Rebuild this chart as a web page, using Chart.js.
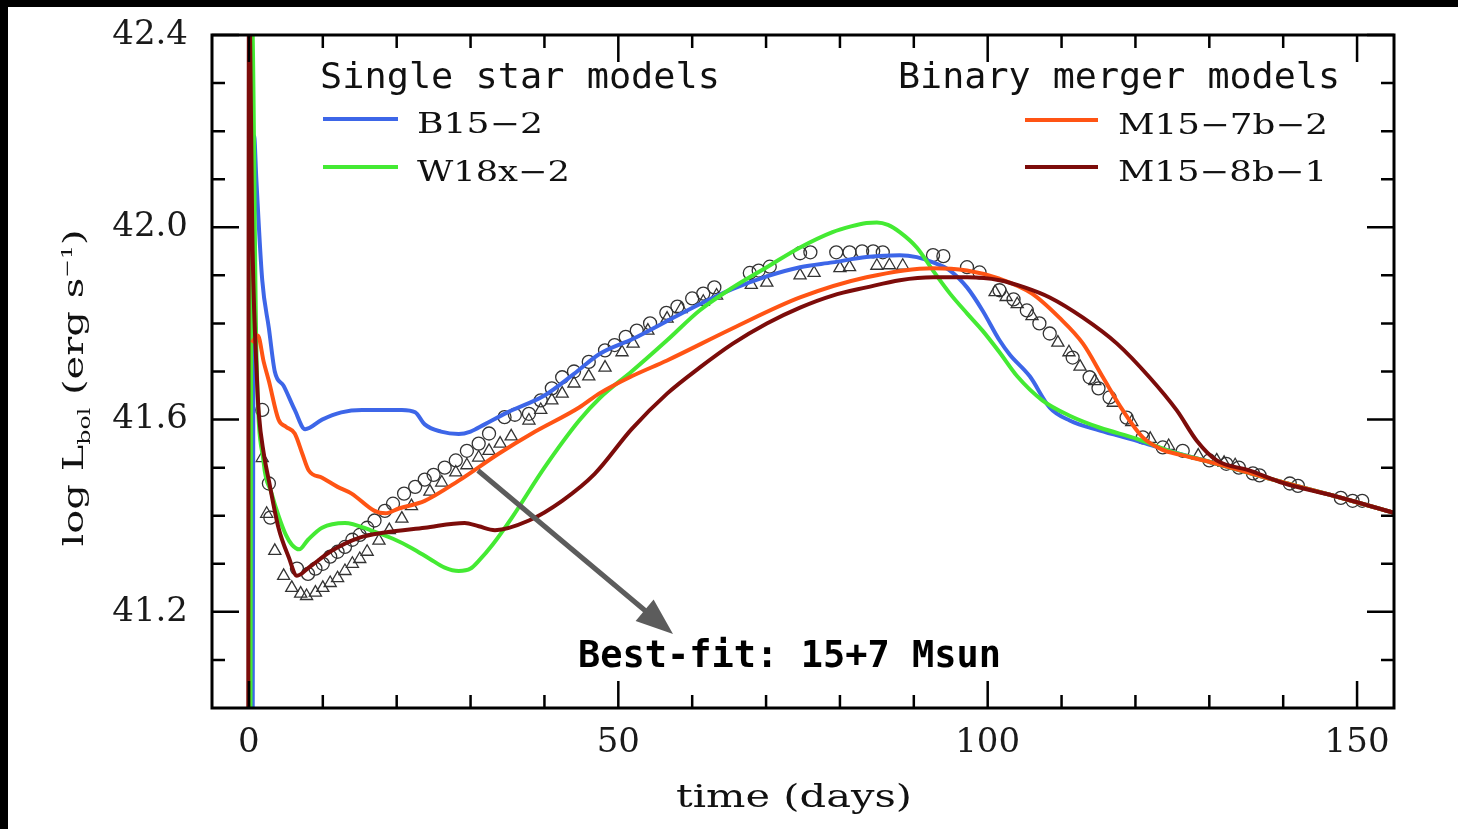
<!DOCTYPE html>
<html>
<head>
<meta charset="utf-8">
<title>Bolometric light curves</title>
<script src="https://cdn.jsdelivr.net/npm/chart.js"></script>
<style>
  html, body { margin: 0; padding: 0; background: #fff; overflow: hidden; width: 100%; height: 100%; }
  .edge-top { position: fixed; left: 0; top: 0; width: 100%; height: 7px; background: #000; }
  .edge-left { position: fixed; left: 0; top: 0; width: 8px; height: 100%; background: #000; }
  .figure { position: fixed; left: 8px; top: 7px; width: 1450px; height: 822px; background: #fff; }
</style>
</head>
<body>
<div class="edge-top"></div>
<div class="edge-left"></div>
<div class="figure"><canvas id="lcChart"></canvas></div>
<script>
// --- model light curves: time (days) / log L_bol ---
const b15Time = [0.5, 0.7, 1.0, 1.8, 2.7, 3.5, 4.7, 6.2, 7.6, 9.9,
  12.5, 15.3, 18.0, 20.7, 22.5, 23.8, 26.0, 28.4, 30.0, 31.9,
  35.0, 40.0, 44.0, 47.5, 52.0, 56.6, 61.0, 65.5, 70.1, 74.6,
  79.0, 83.6, 88.1, 90.4, 92.6, 94.9, 97.2, 99.3, 101.6, 103.0,
  105.7, 108.4, 111.1, 115.2, 120.2, 124.6, 130.5, 137.7, 146.7, 155.0];
const b15Lum = [40.90, 42.19, 42.10, 41.89, 41.79, 41.70, 41.67, 41.62, 41.58, 41.60,
  41.615, 41.62, 41.62, 41.62, 41.615, 41.59, 41.575, 41.57, 41.575, 41.59,
  41.615, 41.65, 41.695, 41.737, 41.768, 41.805, 41.84, 41.872, 41.898, 41.917,
  41.927, 41.938, 41.942, 41.938, 41.927, 41.91, 41.875, 41.827, 41.765, 41.735,
  41.69, 41.625, 41.598, 41.577, 41.556, 41.535, 41.51, 41.479, 41.442, 41.406];

const w18Time = [0.2, 0.4, 1.0, 2.0, 3.0, 4.0, 5.0, 5.8, 6.8, 8.0,
  9.9, 13.0, 16.6, 19.5, 22.0, 24.5, 26.5, 28.4, 30.0, 31.1,
  33.0, 35.6, 40.0, 44.7, 47.5, 51.8, 56.6, 61.0, 65.5, 70.1,
  74.6, 79.0, 81.5, 83.6, 85.0, 86.5, 88.1, 90.4, 92.6, 94.9, 97.2,
  99.3, 101.6, 104.0, 107.4, 111.1, 115.2, 120.2, 124.6, 130.5, 137.7,
  146.7, 155.0];
const w18Lum = [40.90, 42.45, 41.75, 41.51, 41.45, 41.40, 41.36, 41.34, 41.33, 41.35,
  41.375, 41.385, 41.369, 41.352, 41.333, 41.31, 41.292, 41.285, 41.29, 41.306,
  41.34, 41.396, 41.50, 41.598, 41.645, 41.70, 41.765, 41.827, 41.875, 41.917,
  41.958, 41.99, 42.002, 42.009, 42.01, 42.005, 41.99, 41.958, 41.91, 41.862, 41.821,
  41.785, 41.74, 41.69, 41.64, 41.608, 41.583, 41.56, 41.535, 41.51, 41.479,
  41.442, 41.406];

const m157Time = [0.4, 1.2, 2.0, 2.7, 4.0, 5.0, 6.2, 7.2, 8.1,
  9.9, 12.0, 13.9, 17.0, 18.5, 20.3, 23.8, 28.4, 33.8, 38.3,
  44.7, 47.5, 51.8, 56.6, 65.5, 74.6, 83.6, 92.6, 97.2, 101.6,
  106.0, 109.7, 112.9, 115.6, 118.3, 121.0, 123.7, 126.0, 130.5, 137.7,
  146.7, 155.0];
const m157Lum = [41.76, 41.775, 41.72, 41.68, 41.60, 41.585, 41.571, 41.53, 41.494,
  41.479, 41.46, 41.446, 41.41, 41.405, 41.415, 41.431, 41.473, 41.529, 41.571,
  41.625, 41.655, 41.69, 41.723, 41.79, 41.854, 41.896, 41.915, 41.91, 41.893,
  41.862, 41.812, 41.758, 41.688, 41.619, 41.563, 41.537, 41.527, 41.51, 41.479,
  41.442, 41.406];

const m158Time = [-0.1, 0.0, 0.5, 1.1, 1.35, 2.0, 2.7, 4.0, 5.4, 6.5,
  8.1, 11.2, 14.9, 18.4, 23.8, 29.2, 31.1, 33.3, 37.9, 42.4,
  46.8, 51.8, 56.6, 61.0, 65.5, 70.1, 74.6, 79.0, 83.6, 88.1,
  92.6, 97.2, 101.6, 105.0, 108.4, 112.9, 117.5, 121.9, 125.6, 128.3,
  131.0, 135.5, 140.0, 146.7, 155.0];
const m158Lum = [40.80, 42.50, 41.95, 41.68, 41.61, 41.53, 41.473, 41.375, 41.313, 41.275,
  41.292, 41.327, 41.354, 41.365, 41.375, 41.385, 41.378, 41.37, 41.39, 41.431,
  41.487, 41.58, 41.654, 41.708, 41.758, 41.80, 41.833, 41.858, 41.875, 41.89,
  41.896, 41.896, 41.89, 41.875, 41.854, 41.812, 41.758, 41.688, 41.619, 41.556,
  41.515, 41.494, 41.468, 41.442, 41.406];

// --- observed points (two sets: circles and triangles) ---
const obsCircleTime = [1.8, 2.7, 2.9, 6.5, 8.0, 9.0, 10.0, 11.0, 12.0, 13.0,
  14.0, 15.0, 16.0, 17.0, 18.4, 19.5, 21.0, 22.5, 23.8, 25.0,
  26.5, 28.0, 29.5, 31.1, 32.5, 34.6, 36.0, 37.9, 39.5, 41.0,
  42.4, 44.0, 46.0, 48.2, 49.5, 51.0, 52.5, 54.3, 56.5, 58.0,
  60.0, 61.5, 63.0, 67.8, 69.0, 70.5, 74.6, 76.0, 79.5, 81.3,
  83.0, 84.5, 85.8, 92.6, 94.0, 97.2, 98.9, 101.6, 103.5, 105.3,
  107.0, 108.4, 111.5, 113.8, 115.0, 116.5, 118.8, 121.0, 123.7, 126.4,
  130.0, 132.3, 134.0, 135.9, 136.8, 140.9, 142.0, 147.8, 149.4, 150.7];
const obsCircleLum = [41.62, 41.467, 41.396, 41.29, 41.279, 41.29, 41.30, 41.315, 41.325, 41.335,
  41.35, 41.36, 41.375, 41.39, 41.41, 41.425, 41.446, 41.46, 41.475, 41.485,
  41.50, 41.515, 41.535, 41.55, 41.571, 41.605, 41.61, 41.612, 41.64, 41.665,
  41.688, 41.70, 41.72, 41.744, 41.755, 41.772, 41.785, 41.80, 41.822, 41.835,
  41.852, 41.862, 41.875, 41.905, 41.91, 41.918, 41.946, 41.948, 41.948, 41.948,
  41.95, 41.95, 41.948, 41.942, 41.94, 41.917, 41.906, 41.869, 41.85, 41.827,
  41.80, 41.779, 41.729, 41.688, 41.665, 41.646, 41.604, 41.563, 41.542, 41.535,
  41.515, 41.508, 41.50, 41.488, 41.484, 41.467, 41.462, 41.437, 41.431, 41.431];

const obsTriTime = [1.8, 2.4, 3.5, 4.7, 5.8, 7.0, 7.8, 9.0, 10.0, 11.0,
  12.0, 13.0, 14.0, 15.0, 16.0, 17.6, 19.0, 20.7, 22.0, 24.5,
  26.1, 28.0, 29.5, 31.1, 32.5, 34.0, 35.5, 37.9, 39.5, 41.0,
  42.4, 44.0, 46.0, 48.2, 50.5, 52.0, 54.0, 56.6, 58.5, 61.5,
  63.3, 68.0, 70.1, 74.6, 76.5, 80.0, 81.3, 85.0, 86.7, 88.5,
  101.0, 102.5, 104.0, 106.0, 109.5, 111.0, 112.5, 114.5, 117.0, 119.5,
  122.0, 124.5, 128.5, 131.0, 132.0, 133.5];
const obsTriLum = [41.52, 41.404, 41.327, 41.275, 41.25, 41.238, 41.233, 41.24, 41.25, 41.26,
  41.27, 41.285, 41.30, 41.31, 41.325, 41.348, 41.37, 41.394, 41.42, 41.45,
  41.469, 41.49, 41.505, 41.521, 41.535, 41.55, 41.565, 41.598, 41.62, 41.64,
  41.654, 41.675, 41.69, 41.708, 41.74, 41.758, 41.785, 41.81, 41.83, 41.845,
  41.858, 41.88, 41.885, 41.90, 41.905, 41.915, 41.917, 41.92, 41.921, 41.92,
  41.865, 41.855, 41.84, 41.815, 41.76, 41.74, 41.71, 41.68, 41.635, 41.595,
  41.56, 41.545, 41.525, 41.515, 41.51, 41.505];

// --- axes ---
const xTickLabels = [0, 50, 100, 150];
const yTickLabels = [41.2, 41.6, 42.0, 42.4];
const xMinorTicks = [0, 10, 20, 30, 40, 50, 60, 70, 80, 90, 100, 110, 120, 130, 140, 150];
const yMinorTicks = [41.1, 41.2, 41.3, 41.4, 41.5, 41.6, 41.7, 41.8, 41.9, 42.0, 42.1, 42.2, 42.3, 42.4];

// arrow pointing at the best-fit curve (data coordinates)
const arrowFrom = [31.0, 41.494];
const arrowTo = [57.4, 41.154];

const colors = {
  b15: '#3d66e8',
  w18: '#44ea33',
  m157: '#ff5414',
  m158: '#7c0c0a'
};

function toPoints(ts, ls) {
  return ts.map((t, i) => ({ x: t, y: ls[i] }));
}

function stretchText(ctx, text, left, baseline, font, width, color) {
  ctx.save();
  ctx.font = font;
  ctx.fillStyle = color || '#000';
  ctx.textAlign = 'left';
  ctx.textBaseline = 'alphabetic';
  const natural = ctx.measureText(text).width;
  ctx.translate(left, baseline);
  ctx.scale(width / natural, 1);
  ctx.fillText(text, 0, 0);
  ctx.restore();
}

function drawYTitle(ctx, baselineX, centerY, length) {
  const parts = [
    { t: 'log L', size: 27, dy: 0 },
    { t: 'bol', size: 16, dy: 7 },
    { t: ' (erg s', size: 27, dy: 0 },
    { t: '\u22121', size: 15, dy: -11 },
    { t: ')', size: 27, dy: 0 }
  ];
  ctx.save();
  let total = 0;
  parts.forEach(p => {
    ctx.font = p.size + 'px "DejaVu Serif"';
    p.w = ctx.measureText(p.t).width;
    total += p.w;
  });
  ctx.translate(baselineX, centerY);
  ctx.rotate(-Math.PI / 2);
  ctx.scale(length / total, 1);
  ctx.fillStyle = '#111';
  ctx.textBaseline = 'alphabetic';
  let pos = -total / 2;
  parts.forEach(p => {
    ctx.font = p.size + 'px "DejaVu Serif"';
    ctx.fillText(p.t, pos, p.dy);
    pos += p.w;
  });
  ctx.restore();
}

// frame and inward ticks on all four sides
const frameTicks = {
  id: 'frameTicks',
  afterDatasetsDraw(chart) {
    const { ctx, chartArea: a, scales: { x, y } } = chart;
    ctx.save();
    ctx.strokeStyle = '#000';
    ctx.lineWidth = 2.5;
    ctx.beginPath();
    xMinorTicks.forEach(v => {
      const px = x.getPixelForValue(v);
      const len = xTickLabels.includes(v) ? 27 : 13;
      ctx.moveTo(px, a.bottom); ctx.lineTo(px, a.bottom - len);
      ctx.moveTo(px, a.top); ctx.lineTo(px, a.top + len);
    });
    yMinorTicks.forEach(v => {
      const py = y.getPixelForValue(v);
      const len = yTickLabels.includes(v) ? 27 : 13;
      ctx.moveTo(a.left, py); ctx.lineTo(a.left + len, py);
      ctx.moveTo(a.right, py); ctx.lineTo(a.right - len, py);
    });
    ctx.stroke();
    ctx.lineWidth = 3;
    ctx.strokeRect(a.left, a.top, a.right - a.left, a.bottom - a.top);
    ctx.restore();
  }
};

// legend, arrow, annotation and axis titles
const annotations = {
  id: 'annotations',
  afterDraw(chart) {
    const { ctx, scales: { x, y } } = chart;
    const mono = '36px "DejaVu Sans Mono"';
    const serif = '28px "DejaVu Serif"';

    stretchText(ctx, 'Single star models', 312, 81, mono, 400, '#111');
    stretchText(ctx, 'Binary merger models', 890, 81, mono, 442, '#111');
    const samples = [
      { c: colors.b15, x0: 315, x1: 390, y: 112, label: 'B15\u22122', lx: 409, lw: 126 },
      { c: colors.w18, x0: 315, x1: 390, y: 160, label: 'W18x\u22122', lx: 409, lw: 153 },
      { c: colors.m157, x0: 1017, x1: 1090, y: 113, label: 'M15\u22127b\u22122', lx: 1110, lw: 210 },
      { c: colors.m158, x0: 1017, x1: 1090, y: 160, label: 'M15\u22128b\u22121', lx: 1110, lw: 209 }
    ];
    samples.forEach(s => {
      ctx.save();
      ctx.strokeStyle = s.c;
      ctx.lineWidth = 4;
      ctx.beginPath();
      ctx.moveTo(s.x0, s.y);
      ctx.lineTo(s.x1, s.y);
      ctx.stroke();
      ctx.restore();
      stretchText(ctx, s.label, s.lx, s.y + 14, serif, s.lw, '#111');
    });

    // arrow
    const x0 = x.getPixelForValue(arrowFrom[0]), y0 = y.getPixelForValue(arrowFrom[1]);
    const x1 = x.getPixelForValue(arrowTo[0]), y1 = y.getPixelForValue(arrowTo[1]);
    const ang = Math.atan2(y1 - y0, x1 - x0);
    const headLen = 37, headHalf = 14;
    ctx.save();
    ctx.strokeStyle = '#5c5c5c';
    ctx.fillStyle = '#5c5c5c';
    ctx.lineWidth = 5;
    ctx.beginPath();
    ctx.moveTo(x0, y0);
    ctx.lineTo(x1 - Math.cos(ang) * (headLen - 4), y1 - Math.sin(ang) * (headLen - 4));
    ctx.stroke();
    const bx = x1 - Math.cos(ang) * headLen, by = y1 - Math.sin(ang) * headLen;
    ctx.beginPath();
    ctx.moveTo(x1, y1);
    ctx.lineTo(bx + Math.sin(ang) * headHalf, by - Math.cos(ang) * headHalf);
    ctx.lineTo(bx - Math.sin(ang) * headHalf, by + Math.cos(ang) * headHalf);
    ctx.closePath();
    ctx.fill();
    ctx.restore();

    stretchText(ctx, 'Best-fit: 15+7 Msun', 570, 660, 'bold 37px "DejaVu Sans Mono"', 423, '#000');

    // axis titles
    stretchText(ctx, 'time (days)', 668, 800, '32px "DejaVu Serif"', 236, '#111');
    drawYTitle(ctx, 75, 381, 317);
  }
};

function lineSet(label, ts, ls, color, order) {
  return {
    label: label,
    data: toPoints(ts, ls),
    showLine: true,
    borderColor: color,
    backgroundColor: color,
    borderWidth: 4,
    pointRadius: 0,
    cubicInterpolationMode: 'monotone',
    order: order
  };
}

new Chart(document.getElementById('lcChart'), {
  type: 'scatter',
  data: {
    datasets: [
      lineSet('M15-8b-1', m158Time, m158Lum, colors.m158, 0),
      lineSet('M15-7b-2', m157Time, m157Lum, colors.m157, 1),
      lineSet('W18x-2', w18Time, w18Lum, colors.w18, 2),
      lineSet('B15-2', b15Time, b15Lum, colors.b15, 3),
      {
        label: 'obs (triangles)',
        data: toPoints(obsTriTime, obsTriLum),
        pointStyle: 'triangle',
        pointRadius: 7,
        borderColor: '#333',
        borderWidth: 1.3,
        backgroundColor: 'rgba(0,0,0,0)',
        order: 4
      },
      {
        label: 'obs (circles)',
        data: toPoints(obsCircleTime, obsCircleLum),
        pointStyle: 'circle',
        pointRadius: 6.5,
        borderColor: '#333',
        borderWidth: 1.3,
        backgroundColor: 'rgba(0,0,0,0)',
        order: 5
      }
    ]
  },
  options: {
    responsive: true,
    maintainAspectRatio: false,
    animation: false,
    layout: { padding: { top: 28, right: 64, left: 0, bottom: 0 } },
    plugins: {
      legend: { display: false },
      tooltip: { enabled: false }
    },
    scales: {
      x: {
        type: 'linear',
        min: -5,
        max: 155,
        grid: { display: false, drawTicks: false },
        border: { display: false },
        afterBuildTicks: s => { s.ticks = xTickLabels.map(v => ({ value: v })); },
        afterFit: s => { s.height = 121; },
        ticks: {
          padding: 15,
          color: '#1a1a1a',
          font: { family: 'DejaVu Serif', size: 34 },
          callback: v => String(v)
        }
      },
      y: {
        type: 'linear',
        min: 41.0,
        max: 42.4,
        grid: { display: false, drawTicks: false },
        border: { display: false },
        afterBuildTicks: s => { s.ticks = yTickLabels.map(v => ({ value: v })); },
        afterFit: s => { s.width = 204; s.paddingTop = 0; s.paddingBottom = 0; },
        ticks: {
          padding: 24,
          color: '#1a1a1a',
          font: { family: 'DejaVu Serif', size: 34 },
          callback: v => Number(v).toFixed(1)
        }
      }
    }
  },
  plugins: [frameTicks, annotations]
});
</script>
</body>
</html>
